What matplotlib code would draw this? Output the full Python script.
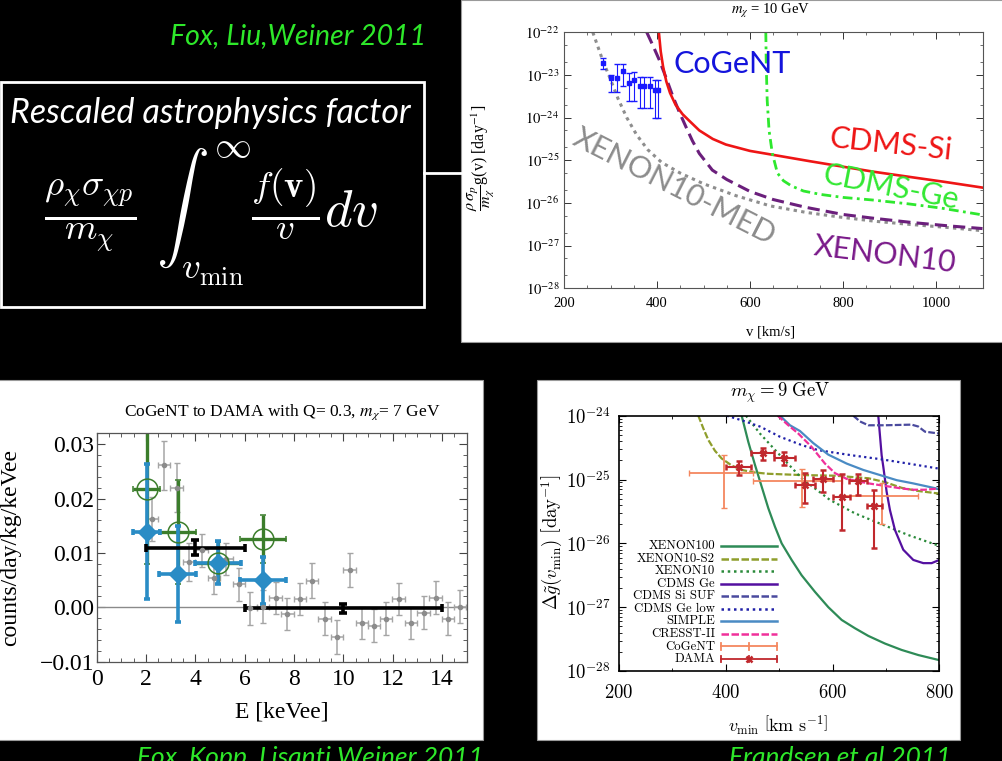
import matplotlib.pyplot as plt
import numpy as np
from matplotlib.patches import Rectangle
from matplotlib.lines import Line2D
from matplotlib.ticker import MultipleLocator, LogLocator, NullFormatter

plt.rcParams['mathtext.fontset'] = 'stix'
plt.rcParams['font.family'] = ['Liberation Serif', 'DejaVu Serif']

# ---------------- top right: m_chi = 10 GeV (v in km/s, log10 of g) ----------------
xmed_v = [262, 283, 298, 316, 335, 356, 380, 410, 450, 500, 570, 644, 720, 793, 870, 941, 1020, 1100]
xmed_lg = [-22.0, -22.65, -23.05, -23.55, -24.0, -24.4, -24.75, -25.05, -25.3, -25.55, -25.83,
           -26.07, -26.22, -26.33, -26.43, -26.5, -26.57, -26.65]
xe10_v = [378, 392, 405, 420, 434, 448, 462, 476, 491, 519, 550, 600, 650, 719, 800, 867, 950, 1030, 1100]
xe10_lg = [-22.0, -22.33, -22.65, -23.08, -23.5, -23.87, -24.21, -24.54, -24.84, -25.23, -25.45,
           -25.73, -25.92, -26.1, -26.27, -26.36, -26.46, -26.54, -26.6]
cdsi_v = [404, 408, 413, 420, 428, 440, 455, 470, 491, 520, 548, 600, 643, 728, 800, 867, 950, 1015, 1100]
cdsi_lg = [-22.0, -22.45, -22.8, -23.15, -23.42, -23.7, -23.92, -24.08, -24.3, -24.5, -24.63,
           -24.78, -24.86, -25.02, -25.15, -25.27, -25.4, -25.5, -25.64]
cdge_v = [634, 635, 637, 641, 648, 659, 672, 689, 715, 752, 800, 863, 940, 1011, 1100]
cdge_lg = [-22.0, -22.8, -23.6, -24.3, -24.84, -25.3, -25.48, -25.6, -25.72, -25.8, -25.87,
           -25.93, -26.02, -26.12, -26.28]
cog_v = [284, 300, 313, 327, 339, 350, 363, 373, 384, 395, 402]
cog_lg = [-22.73, -23.06, -23.06, -22.9, -23.18, -23.12, -23.25, -23.25, -23.25, -23.35, -23.35]
cog_hi = [-22.6, -23.0, -22.75, -22.75, -22.96, -22.94, -23.04, -23.04, -23.04, -23.12, -23.12]
cog_lo = [-22.87, -23.39, -23.41, -23.25, -23.6, -23.6, -23.78, -23.78, -23.78, -24.02, -24.02]

# ---------------- bottom left: CoGeNT to DAMA ----------------
gray_E = [2.25, 2.74, 3.24, 3.75, 4.25, 4.76, 5.26, 5.76, 6.23, 6.74, 7.25, 7.73, 8.23, 8.73,
          9.24, 9.74, 10.25, 10.75, 11.24, 11.74, 12.24, 12.75, 13.25, 13.74, 14.24, 14.74]
gray_y = [0.0162, 0.0261, 0.0220, 0.0084, 0.0105, 0.0054, 0.0089, 0.0042, -0.0002, 0.0001,
          0.0017, -0.0012, 0.0015, 0.0049, -0.0021, -0.0054, 0.0069, -0.0029, -0.0034, -0.0021,
          0.0015, -0.0029, -0.0010, 0.0018, -0.0021, 0.0001]
gray_err = [0.004, 0.0045, 0.0045, 0.0035, 0.003, 0.003, 0.003, 0.003, 0.003, 0.003, 0.003,
            0.003, 0.003, 0.0032, 0.003, 0.0031, 0.0031, 0.003, 0.003, 0.003, 0.003, 0.003,
            0.003, 0.003, 0.003, 0.003]
mod_E = [2.02, 3.28, 4.92, 6.74]
mod_xerr = [0.54, 0.76, 0.95, 0.93]
blue_y = [0.0139, 0.0061, 0.0082, 0.0050]
blue_err = [0.0124, 0.0088, 0.0040, 0.0043]
green_y = [0.0217, 0.0139, 0.0081, 0.0126]
green_err = [0.0137, 0.0096, 0.0039, 0.0044]
dama_E = [4, 10]
dama_xerr = [2, 4]
dama_y = [0.0110, -0.0002]
dama_err = [0.0014, 0.0009]

# ---------------- bottom right: m_chi = 9 GeV ----------------
x100_v = [429.8, 442.2, 454.7, 467.2, 479.7, 492.2, 504.7, 523.4, 542.1, 567.1, 592.1, 617.1,
          642.0, 667.0, 698.2, 729.4, 760.7, 800]
x100_lg = [-24.0, -24.41, -24.77, -25.11, -25.45, -25.74, -26.0, -26.26, -26.5, -26.76, -27.0,
           -27.2, -27.33, -27.45, -27.57, -27.67, -27.75, -27.83]
s2_v = [348.6, 358, 367.3, 379.8, 392.3, 411, 429.8, 454.7, 479.7, 542.1, 604.6, 667, 698.2,
        729.4, 760.7, 800]
s2_lg = [-24.0, -24.2, -24.38, -24.55, -24.67, -24.78, -24.85, -24.89, -24.91, -24.93, -24.94,
         -24.98, -25.04, -25.13, -25.18, -25.22]
x10_v = [437.9, 464.1, 501.6, 542.1, 595.2, 642, 688.9, 741.9, 800]
x10_lg = [-24.0, -24.28, -24.62, -24.98, -25.32, -25.53, -25.69, -25.87, -26.04]
ge_v = [685.7, 692, 695.1, 701.3, 707.6, 716.9, 732.5, 751.3, 770, 785.6, 800]
ge_lg = [-24.0, -24.62, -24.8, -25.19, -25.48, -25.79, -26.1, -26.26, -26.31, -26.31, -26.26]
suf_v = [638.9, 651.4, 667, 698.2, 748.2, 760.7, 773.1, 800]
suf_lg = [-24.0, -24.09, -24.15, -24.15, -24.14, -24.17, -24.25, -24.28]
gelow_v = [401.7, 432.9, 464.1, 501.6, 542.1, 573.4, 635.8, 688.9, 741.9, 800]
gelow_lg = [-24.0, -24.08, -24.17, -24.33, -24.46, -24.54, -24.62, -24.68, -24.75, -24.83]
simple_v = [501.6, 520.3, 539, 564, 592.1, 626.4, 657.6, 688.9, 720.1, 750.7, 800]
simple_lg = [-24.0, -24.15, -24.24, -24.43, -24.61, -24.75, -24.85, -24.93, -25.01, -25.06, -25.15]
cresst_v = [497.2, 517.2, 535.9, 560.9, 585.8, 604.6, 626.4, 667, 698.2, 729.4, 751.3, 773.1, 800]
cresst_lg = [-24.0, -24.15, -24.28, -24.49, -24.75, -24.9, -24.99, -25.06, -25.1, -25.14,
             -25.16, -25.16, -25.14]
cg_v = [396.7, 542.1, 692.0]
cg_vlo = [331.7, 451.6, 615.8]
cg_vhi = [451.6, 617.1, 760.7]
cg_lg = [-24.89, -25.03, -25.26]
cg_hi = [-24.62, -24.84, -25.06]
cg_lo = [-25.45, -25.43, -25.69]
dm_v = [424.8, 469.1, 509.7, 548.4, 582.7, 617.1, 647.0, 678.2]
dm_vlo = [399.8, 447.2, 490.9, 529.6, 564.0, 600.2, 631.4, 663.9]
dm_vhi = [447.2, 490.9, 529.6, 567.1, 601.4, 632.7, 663.9, 693.2]
dm_lg = [-24.8, -24.59, -24.67, -25.09, -24.99, -25.28, -25.03, -25.41]
dm_hi = [-24.71, -24.5, -24.57, -24.9, -24.85, -24.92, -24.91, -25.16]
dm_lo = [-24.93, -24.69, -24.77, -25.37, -25.19, -25.79, -25.25, -26.08]

W, H = 1002, 761


def box(x0, y0, x1, y1):
    return [x0 / W, 1 - y1 / H, (x1 - x0) / W, (y1 - y0) / H]


def fx(x):
    return x / W


def fy(y):
    return 1 - y / H


def p10(a):
    return 10.0 ** np.array(a)


def asym(c, lo, hi):
    c, lo, hi = p10(c), p10(lo), p10(hi)
    return [c - lo, hi - c]


fig = plt.figure(figsize=(10.02, 7.61), dpi=100, facecolor='black')

# white panels
for (x0, y0, x1, y1) in [(461, 0, 1003, 342), (-2, 380, 483, 740), (537, 380, 960, 740)]:
    fig.add_artist(Rectangle((fx(x0), fy(y1)), (x1 - x0) / W, (y1 - y0) / H,
                             transform=fig.transFigure, facecolor='white',
                             edgecolor='#9a9a9a', lw=0.8, zorder=-5))

green_txt = '#2ee82a'
fig.text(fx(170), fy(36), 'Fox, Liu,Weiner 2011', color=green_txt, fontsize=20.5,
         family='Lato', style='italic', ha='left', va='center')
fig.add_artist(Rectangle((fx(1), fy(307)), 423 / W, 225 / H, transform=fig.transFigure,
                         facecolor='none', edgecolor='white', lw=2.0))
fig.add_artist(Line2D([fx(424), fx(461)], [fy(173), fy(173)], color='white', lw=2.0))
fig.text(fx(10), fy(123), 'Rescaled astrophysics factor', color='white', fontsize=24.5,
         family='Lato', style='italic', ha='left', va='baseline')
fig.text(fx(211), fy(214),
         r'$\frac{\rho_\chi\sigma_{\chi p}}{m_\chi}\ \int_{v_{\rm min}}^{\infty}\frac{f(\mathbf{v})}{v}dv$',
         color='white', fontsize=38, math_fontfamily='cm', ha='center', va='center')
fig.text(fx(137), fy(746), 'Fox, Kopp, Lisanti,Weiner 2011', color=green_txt, fontsize=19,
         family='Lato', style='italic', ha='left', va='top')
fig.text(fx(729), fy(746), 'Frandsen et al 2011', color=green_txt, fontsize=19,
         family='Lato', style='italic', ha='left', va='top')

# ---------------- top right axes ----------------
ax1 = fig.add_axes(box(564, 32.3, 982.5, 288.3))
ax1.set_yscale('log')
ax1.plot(xmed_v, p10(xmed_lg), color='#8e8e8e', lw=2.2, ls=(0, (1.1, 1.4)))
ax1.plot(xe10_v, p10(xe10_lg), color='#6b1f7c', lw=2.2, ls=(0, (4, 2)))
ax1.plot(cdsi_v, p10(cdsi_lg), color='#ee1515', lw=1.9)
ax1.plot(cdge_v, p10(cdge_lg), color='#2ee82e', lw=2.0, ls=(0, (3.5, 1.6, 1, 1.6)))
ax1.errorbar(cog_v, p10(cog_lg), yerr=asym(cog_lg, cog_lo, cog_hi), fmt='s', ms=3.5,
             color='#1a1aff', elinewidth=0.8, capsize=2)
ax1.set_xlim(200, 1100)
ax1.set_ylim(1e-28, 1e-22)
ax1.set_xticks([200, 400, 600, 800, 1000], ['200', '400', '600', '800', '1000'])
ax1.set_yticks(p10([-28, -27, -26, -25, -24, -23, -22]),
               [r'$10^{-%d}$' % k for k in [28, 27, 26, 25, 24, 23, 22]])
ax1.xaxis.set_minor_locator(MultipleLocator(50))
ax1.yaxis.set_minor_locator(LogLocator(base=10, subs=(2, 5)))
ax1.yaxis.set_minor_formatter(NullFormatter())
ax1.tick_params(which='both', direction='in', top=True, right=True, labelsize=10.5,
                colors='#333333', labelcolor='black')
ax1.tick_params(which='major', length=5, width=0.7)
ax1.tick_params(axis='x', which='major', pad=6)
ax1.tick_params(which='minor', length=2.5, width=0.5)
for s in ax1.spines.values():
    s.set_color('#555555')
    s.set_linewidth(0.8)
lab = dict(family='Lato', fontsize=22)
ax1.text(561, p10(-22.74), 'CoGeNT', color='#1414dc', ha='center', va='center', **lab)
ax1.text(902, p10(-24.64), 'CDMS-Si', color='#ee1515', ha='center', va='center',
         rotation=-6, **lab)
ax1.text(902, p10(-25.64), 'CDMS-Ge', color='#33e833', ha='center', va='center',
         rotation=-11, **lab)
ax1.text(437, p10(-25.62), 'XENON10-MED', color='#8c8c8c', ha='center', va='center',
         rotation=-27, **lab)
ax1.text(889, p10(-27.22), 'XENON10', color='#7a1a8a', ha='center', va='center',
         rotation=-7, **lab)
fig.text(fx(771), fy(11), r'$m_\chi$ = 10 GeV', fontsize=10.5, ha='center', va='center')
fig.text(fx(771), fy(332), 'v [km/s]', fontsize=10.5, ha='center', va='center')
fig.text(fx(481), fy(158), r'$\dfrac{\rho\,\sigma_p}{m_\chi}$g(v) [day$^{-1}$]', fontsize=11.5,
         rotation=90, ha='center', va='center')

# ---------------- bottom left axes ----------------
ax2 = fig.add_axes(box(96.7, 433.3, 466.7, 661.7))
ax2.axhline(0, color='#8a8a8a', lw=1.0)
ax2.errorbar(gray_E, gray_y, xerr=0.25, yerr=gray_err, fmt='o', ms=3, color='#8c8c8c',
             ecolor='#a5a5a5', elinewidth=1.1, capsize=2)
ax2.errorbar(mod_E, green_y, xerr=mod_xerr, yerr=green_err, fmt='o', ms=15, mfc='none',
             mec='#3b7d2b', mew=1.1, ecolor='#3b7d2b', elinewidth=2.4, capsize=2.5, capthick=2.4)
ax2.errorbar(mod_E, blue_y, xerr=mod_xerr, yerr=blue_err, fmt='D', ms=9, color='#2a8cc5',
             elinewidth=2.6, capsize=2.5, capthick=2.6)
ax2.errorbar(dama_E, dama_y, xerr=dama_xerr, yerr=dama_err, fmt='none', ecolor='black',
             elinewidth=2.6, capsize=3, capthick=2.6)
ax2.set_xlim(0, 15)
ax2.set_ylim(-0.01, 0.032)
ax2.set_xticks(range(0, 15, 2), [str(k) for k in range(0, 15, 2)])
ax2.set_yticks([-0.01, 0.0, 0.01, 0.02, 0.03], ['\u22120.01', '0.00', '0.01', '0.02', '0.03'])
ax2.xaxis.set_minor_locator(MultipleLocator(0.5))
ax2.yaxis.set_minor_locator(MultipleLocator(0.002))
ax2.tick_params(which='both', direction='in', top=True, right=True, labelsize=17,
                colors='#444444', labelcolor='black')
ax2.tick_params(which='major', length=6, width=0.8, pad=2)
ax2.tick_params(axis='x', which='major', pad=5)
ax2.tick_params(which='minor', length=3, width=0.6)
for s in ax2.spines.values():
    s.set_color('#555555')
    s.set_linewidth(0.9)
fig.text(fx(282), fy(412), r'CoGeNT to DAMA with Q= 0.3, $m_\chi$= 7 GeV', fontsize=12.5,
         ha='center', va='center')
fig.text(fx(282), fy(712), 'E [keVee]', fontsize=17, ha='center', va='center')
fig.text(fx(11), fy(548), 'counts/day/kg/keVee', fontsize=17, rotation=90, ha='center',
         va='center')

# ---------------- bottom right axes ----------------
ax3 = fig.add_axes(box(619, 415.7, 939.3, 671))
ax3.set_yscale('log')
styles = [
    ('XENON100', x100_v, x100_lg, '#2e8b57', '-'),
    ('XENON10-S2', s2_v, s2_lg, '#8f9e2c', (0, (3, 1))),
    ('XENON10', x10_v, x10_lg, '#2a8a3a', (0, (1, 1.5))),
    ('CDMS Ge', ge_v, ge_lg, '#5410a0', '-'),
    ('CDMS Si SUF', suf_v, suf_lg, '#4a4a9e', (0, (3, 1))),
    ('CDMS Ge low', gelow_v, gelow_lg, '#2020a8', (0, (1, 1.5))),
    ('SIMPLE', simple_v, simple_lg, '#4a8bc4', '-'),
    ('CRESST-II', cresst_v, cresst_lg, '#f0309a', (0, (3, 1))),
]
for name, v, lg, c, ls in styles:
    ax3.plot(v, p10(lg), color=c, ls=ls, lw=1.6)
cg_col = '#f4875f'
dm_col = '#c0282d'
ax3.errorbar(cg_v, p10(cg_lg),
             xerr=[np.array(cg_v) - np.array(cg_vlo), np.array(cg_vhi) - np.array(cg_v)],
             yerr=asym(cg_lg, cg_lo, cg_hi), fmt='none', ecolor=cg_col, elinewidth=1.3,
             capsize=2.5)
ax3.errorbar(dm_v, p10(dm_lg),
             xerr=[np.array(dm_v) - np.array(dm_vlo), np.array(dm_vhi) - np.array(dm_v)],
             yerr=asym(dm_lg, dm_lo, dm_hi), fmt='x', ms=5, mew=1.8, color=dm_col,
             elinewidth=1.5, capsize=2.5)
ax3.set_xlim(200, 800)
ax3.set_ylim(1e-28, 1e-24)
ax3.set_xticks([200, 400, 600, 800], [r'$200$', r'$400$', r'$600$', r'$800$'])
ax3.set_yticks(p10([-28, -27, -26, -25, -24]),
               [r'$10^{-%d}$' % k for k in [28, 27, 26, 25, 24]])
ax3.xaxis.set_minor_locator(MultipleLocator(100))
ax3.yaxis.set_minor_locator(LogLocator(base=10, subs=np.arange(2, 10)))
ax3.yaxis.set_minor_formatter(NullFormatter())
ax3.tick_params(which='both', direction='in', top=True, right=True, labelsize=13.5)
ax3.tick_params(which='major', length=5, width=0.8, pad=6)
ax3.tick_params(axis='x', which='major', pad=9)
ax3.tick_params(which='minor', length=2.5, width=0.6)
for t in ax3.get_xticklabels() + ax3.get_yticklabels():
    t.set_math_fontfamily('cm')
for s in ax3.spines.values():
    s.set_linewidth(1.2)

# legend drawn row by row
x_txt, x_l0, x_l1 = 0.300, 0.317, 0.492
for i, (name, v, lg, c, ls) in enumerate(styles + [('CoGeNT', None, None, cg_col, '-'),
                                                    ('DAMA', None, None, dm_col, '-')]):
    yy = (671 - (546 + 12.56 * i)) / 255.3
    ax3.text(x_txt, yy, name, transform=ax3.transAxes, ha='right', va='center',
             family='cmr10', fontsize=9.2)
    ax3.add_line(Line2D([x_l0, x_l1], [yy, yy], transform=ax3.transAxes, color=c, ls=ls,
                        lw=1.8 if i < 8 else 1.3))
    if i >= 8:
        xm = 0.5 * (x_l0 + x_l1)
        for xc in (x_l0, x_l1, xm):
            ax3.add_line(Line2D([xc, xc], [yy - 0.012, yy + 0.012], transform=ax3.transAxes,
                                color=c, lw=1.3))
        if name == 'DAMA':
            ax3.add_line(Line2D([xm], [yy], transform=ax3.transAxes, marker='x', ms=5,
                                mew=1.8, color=c))

fig.text(fx(780), fy(393), r'$m_\chi = 9\ \mathrm{GeV}$', fontsize=13.5, math_fontfamily='cm',
         ha='center', va='center')
fig.text(fx(778), fy(725), r'$v_{\rm min}\ \left[\mathrm{km\ s}^{-1}\right]$', fontsize=13,
         math_fontfamily='cm', ha='center', va='center')
fig.text(fx(552), fy(542), r'$\Delta\tilde{g}(v_{\rm min})\ \left[\mathrm{day}^{-1}\right]$',
         fontsize=13.5, math_fontfamily='cm', rotation=90, ha='center', va='center')

fig.savefig('out.png', dpi=100, facecolor='black')
